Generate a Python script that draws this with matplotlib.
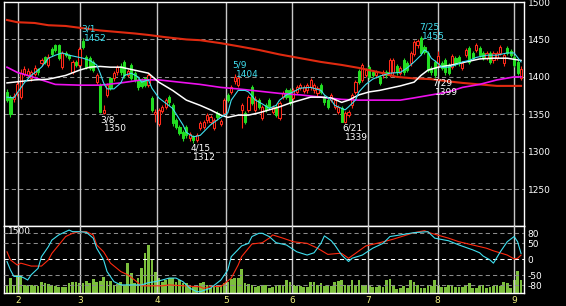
import matplotlib
matplotlib.use("Agg")
import matplotlib.pyplot as plt

W, H, DPI = 566, 306, 100

# ── daily candles, day index 0..149 ──────────────────────────────────────────
opens = [1380, 1373, 1370, 1378, 1373, 1404, 1402, 1398, 1404, 1410,
         1418, 1426, 1416, 1437, 1442, 1442, 1413, 1432, 1429, 1407,
         1420, 1416, 1448, 1426, 1425, 1420, 1393, 1389, 1352, 1376,
         1398, 1398, 1406, 1415, 1420, 1403, 1416, 1405, 1396, 1396,
         1398, 1389, 1372, 1350, 1337, 1355, 1360, 1373, 1362, 1342,
         1333, 1326, 1333, 1318, 1320, 1316, 1332, 1333, 1342, 1340,
         1332, 1352, 1337, 1352, 1376, 1380, 1394, 1389, 1356, 1352,
         1356, 1386, 1356, 1369, 1345, 1362, 1369, 1353, 1360, 1345,
         1373, 1382, 1382, 1372, 1380, 1385, 1381, 1382, 1386, 1382,
         1378, 1389, 1373, 1369, 1369, 1360, 1353, 1358, 1340, 1349,
         1362, 1380, 1408, 1396, 1403, 1413, 1406, 1402, 1400, 1402,
         1406, 1403, 1406, 1414, 1405, 1422, 1418, 1418, 1431, 1442,
         1452, 1440, 1432, 1412, 1420, 1418, 1418, 1422, 1416, 1413,
         1425, 1426, 1412, 1429, 1438, 1432, 1436, 1438, 1432, 1425,
         1432, 1422, 1425, 1432, 1418, 1438, 1434, 1426, 1420, 1399]
closes = [1369, 1351, 1374, 1390, 1405, 1410, 1408, 1406, 1412, 1406,
          1422, 1420, 1427, 1431, 1436, 1425, 1432, 1429, 1425, 1420,
          1416, 1437, 1440, 1413, 1412, 1409, 1402, 1353, 1356, 1389,
          1385, 1405, 1413, 1406, 1402, 1408, 1399, 1396, 1386, 1388,
          1389, 1402, 1356, 1353, 1356, 1360, 1369, 1366, 1338, 1333,
          1325, 1318, 1322, 1324, 1316, 1322, 1338, 1340, 1349, 1346,
          1342, 1346, 1341, 1369, 1369, 1386, 1400, 1399, 1362, 1340,
          1373, 1365, 1371, 1360, 1360, 1356, 1360, 1360, 1349, 1365,
          1378, 1373, 1365, 1382, 1386, 1389, 1386, 1389, 1396, 1389,
          1385, 1380, 1366, 1360, 1376, 1369, 1360, 1340, 1352, 1353,
          1376, 1393, 1393, 1416, 1409, 1400, 1403, 1406, 1392, 1406,
          1402, 1422, 1422, 1406, 1412, 1406, 1409, 1432, 1446, 1448,
          1432, 1433, 1409, 1406, 1403, 1428, 1412, 1406, 1405, 1428,
          1418, 1418, 1418, 1436, 1420, 1425, 1442, 1429, 1426, 1432,
          1420, 1432, 1432, 1440, 1429, 1432, 1429, 1416, 1405, 1411]
highs = [1384, 1376, 1378, 1394, 1410, 1414, 1412, 1409, 1416, 1412,
         1425, 1428, 1430, 1440, 1444, 1444, 1435, 1434, 1431, 1423,
         1423, 1440, 1452, 1429, 1428, 1423, 1405, 1392, 1362, 1392,
         1400, 1408, 1416, 1418, 1423, 1411, 1418, 1408, 1399, 1398,
         1400, 1405, 1375, 1357, 1359, 1363, 1372, 1376, 1365, 1345,
         1336, 1329, 1336, 1327, 1323, 1325, 1341, 1343, 1352, 1349,
         1345, 1354, 1344, 1372, 1379, 1389, 1404, 1402, 1365, 1355,
         1376, 1389, 1374, 1372, 1363, 1365, 1372, 1363, 1363, 1368,
         1381, 1385, 1385, 1385, 1389, 1392, 1389, 1392, 1399, 1392,
         1388, 1392, 1376, 1372, 1379, 1372, 1363, 1361, 1355, 1356,
         1379, 1396, 1411, 1419, 1412, 1416, 1409, 1409, 1403, 1409,
         1409, 1425, 1425, 1417, 1415, 1425, 1421, 1435, 1449, 1451,
         1455, 1443, 1435, 1415, 1423, 1434, 1421, 1425, 1419, 1431,
         1428, 1429, 1421, 1439, 1441, 1435, 1445, 1441, 1435, 1435,
         1435, 1435, 1435, 1443, 1432, 1441, 1437, 1429, 1423, 1414]
lows = [1366, 1346, 1366, 1375, 1370, 1401, 1399, 1395, 1401, 1403,
        1415, 1417, 1413, 1428, 1433, 1422, 1410, 1426, 1422, 1404,
        1413, 1413, 1437, 1410, 1409, 1406, 1390, 1352, 1350, 1373,
        1382, 1395, 1403, 1403, 1399, 1400, 1396, 1393, 1383, 1385,
        1386, 1386, 1353, 1340, 1334, 1352, 1357, 1363, 1335, 1330,
        1322, 1315, 1319, 1315, 1312, 1313, 1329, 1330, 1339, 1337,
        1329, 1343, 1334, 1349, 1366, 1377, 1391, 1386, 1332, 1337,
        1353, 1362, 1353, 1357, 1342, 1353, 1357, 1350, 1346, 1342,
        1370, 1370, 1362, 1369, 1377, 1382, 1378, 1379, 1383, 1379,
        1375, 1377, 1363, 1357, 1366, 1357, 1350, 1340, 1339, 1346,
        1359, 1377, 1390, 1393, 1400, 1397, 1400, 1399, 1389, 1399,
        1399, 1400, 1403, 1403, 1402, 1403, 1406, 1415, 1428, 1439,
        1429, 1430, 1406, 1403, 1399, 1415, 1409, 1403, 1402, 1410,
        1415, 1415, 1409, 1426, 1417, 1422, 1433, 1426, 1423, 1422,
        1417, 1419, 1422, 1429, 1415, 1429, 1426, 1413, 1402, 1396]
# volume in thousand shares
volume = [200, 370, 200, 450, 450, 200, 180, 200, 175, 175,
          280, 250, 230, 200, 175, 160, 160, 160, 250, 280,
          280, 250, 250, 310, 250, 340, 280, 310, 410, 310,
          310, 200, 225, 280, 200, 740, 490, 250, 370, 620,
          990, 1200, 840, 520, 370, 280, 330, 370, 370, 280,
          330, 250, 250, 200, 160, 150, 242, 283, 200, 117,
          158, 200, 200, 242, 283, 342, 367, 367, 592, 258,
          217, 200, 158, 175, 200, 200, 117, 158, 175, 200,
          200, 325, 283, 200, 175, 175, 158, 158, 267, 275,
          200, 258, 175, 175, 175, 283, 308, 325, 200, 200,
          325, 200, 325, 200, 200, 200, 158, 158, 175, 158,
          325, 342, 175, 92, 117, 175, 117, 325, 283, 200,
          117, 133, 200, 175, 325, 200, 158, 158, 200, 200,
          158, 142, 158, 200, 242, 117, 117, 175, 200, 117,
          142, 175, 200, 175, 283, 242, 117, 333, 558, 333]

# ── moving averages (day, price) ─────────────────────────────────────────────
ma5_day = [0, 2, 5, 7, 9, 10, 12, 14, 16, 18, 21, 22, 24, 26, 27, 28, 29, 31, 33, 34,
           36, 38, 39, 41, 42, 44, 46, 48, 51, 52, 54, 56, 59, 62, 64, 65, 67, 69, 70, 72,
           74, 76, 78, 79, 81, 83, 85, 88, 91, 92, 94, 95, 97, 98, 99, 101, 102, 104, 106, 108,
           111, 114, 116, 118, 120, 121, 122, 123, 125, 126, 128, 130, 132, 134, 136, 139, 142, 145, 147, 148,
           149]
ma5_val = [1373, 1372, 1392, 1402, 1409, 1413, 1425, 1429, 1432, 1429, 1426, 1425, 1422, 1416, 1405, 1392, 1384, 1384, 1392, 1402,
           1405, 1400, 1393, 1396, 1385, 1372, 1365, 1358, 1336, 1326, 1320, 1322, 1336, 1346, 1352, 1369, 1382, 1382, 1380, 1369,
           1364, 1358, 1362, 1369, 1376, 1380, 1385, 1386, 1382, 1376, 1369, 1362, 1358, 1356, 1360, 1369, 1380, 1390, 1397, 1401,
           1405, 1406, 1412, 1420, 1429, 1436, 1433, 1425, 1418, 1413, 1413, 1416, 1420, 1422, 1426, 1429, 1429, 1432, 1432, 1426,
           1420]
ma25_day = [0, 8, 12, 17, 21, 24, 27, 30, 33, 37, 41, 44, 48, 52, 56, 59, 62, 64, 67, 70,
            73, 76, 79, 82, 85, 88, 91, 94, 97, 99, 102, 105, 108, 111, 114, 118, 120, 122, 125, 129,
            133, 137, 141, 145, 149]
ma25_val = [1392, 1396, 1397, 1402, 1409, 1413, 1414, 1413, 1413, 1409, 1405, 1393, 1382, 1369, 1362, 1356, 1349, 1346, 1349, 1349,
            1352, 1356, 1360, 1365, 1369, 1373, 1373, 1372, 1366, 1369, 1376, 1380, 1382, 1385, 1388, 1393, 1402, 1409, 1413, 1416,
            1420, 1424, 1425, 1425, 1422]
ma75_day = [0, 3, 6, 10, 14, 21, 27, 33, 39, 44, 50, 56, 62, 67, 73, 79, 85, 91, 97, 102,
            114, 118, 123, 128, 132, 137, 142, 147, 149]
ma75_val = [1413, 1406, 1402, 1396, 1390, 1389, 1389, 1392, 1396, 1396, 1393, 1390, 1386, 1384, 1381, 1378, 1376, 1373, 1370, 1369,
            1369, 1372, 1376, 1380, 1386, 1390, 1396, 1400, 1400]
ma200_day = [0, 3, 8, 12, 17, 22, 27, 32, 37, 41, 46, 52, 56, 62, 67, 73, 79, 85, 91, 97,
             102, 108, 113, 118, 123, 128, 132, 137, 142, 147, 149]
ma200_val = [1476, 1473, 1472, 1469, 1468, 1465, 1462, 1460, 1458, 1456, 1453, 1450, 1449, 1445, 1441, 1436, 1430, 1425, 1420, 1416,
             1412, 1406, 1400, 1398, 1397, 1394, 1392, 1390, 1388, 1388, 1388]

# ── oscillators in lower panel (day, value) ─────────────────────────────────
osc_c_day = [0, 1, 2, 4, 5, 6, 7, 9, 10, 12, 13, 15, 18, 19, 21, 23, 25, 26, 28, 29,
             31, 33, 39, 41, 43, 45, 47, 49, 51, 53, 55, 56, 59, 62, 64, 65, 68, 70, 71, 73,
             74, 76, 78, 81, 84, 87, 89, 91, 92, 94, 95, 97, 99, 100, 103, 106, 109, 111, 114, 118,
             122, 124, 128, 131, 135, 137, 138, 140, 141, 143, 145, 147, 148, 149]
osc_c_val = [-7, -33, -53, -53, -58, -64, -48, -28, 8, 39, 59, 75, 90, 85, 85, 83, 65, 34, -2, -38,
             -69, -79, -79, -72, -69, -64, -58, -58, -69, -89, -100, -100, -89, -64, -33, 8, 41, 49, 70, 80,
             80, 70, 51, 44, 23, 13, 20, 49, 72, 57, 44, 13, -7, 3, 13, 34, 49, 70, 75, 82,
             85, 65, 57, 44, 29, 20, 10, -2, -12, 23, 54, 70, 54, 18]
osc_r_day = [0, 1, 3, 4, 7, 10, 12, 13, 15, 17, 19, 21, 23, 25, 26, 28, 30, 33, 35, 37,
             39, 45, 47, 56, 57, 59, 62, 65, 67, 68, 71, 74, 76, 77, 80, 83, 87, 90, 93, 96,
             97, 99, 101, 104, 108, 112, 118, 121, 123, 128, 131, 135, 139, 141, 145, 147, 148, 149]
osc_r_val = [23, -2, -18, -12, -21, -21, -2, 18, 44, 70, 80, 85, 85, 75, 44, 23, -12, -38, -48, -64,
             -82, -82, -79, -85, -90, -84, -84, -58, -18, 8, 47, 51, 65, 75, 65, 54, 49, 34, 15, 18,
             18, 3, 18, 41, 51, 62, 82, 88, 80, 65, 54, 44, 34, 26, 13, 1, 3, 13]

month_pos = [3.2, 21.3, 43.6, 63.5, 82.7, 104.7, 124.8, 147.0]
month_lbl = ["2", "3", "4", "5", "6", "7", "8", "9"]

# marked highs / lows
mark_day = [22, 28, 54, 66, 98, 120, 124]
mark_price = [1452, 1350, 1312, 1404, 1339, 1455, 1399]
mark_date = ["3/1", "3/8", "4/15", "5/9", "6/21", "7/25", "7/29"]
mark_high = [True, False, False, True, False, True, False]

# ── styling ──────────────────────────────────────────────────────────────────
BG = "black"
UP = "#ff2a1a"
DOWN = "#22dd22"
CYAN = "#40e0f0"
GRID = "#8c8c8c"
VLINE = "#c8c8c8"
FS = 6.5
plt.rcParams["font.family"] = "DejaVu Sans"

fig = plt.figure(figsize=(W / DPI, H / DPI), dpi=DPI, facecolor=BG)
ax = fig.add_axes([4 / W, (H - 226) / H, 520 / W, 224 / H], facecolor=BG)
axl = fig.add_axes([4 / W, (H - 293) / H, 520 / W, 67 / H], facecolor=BG)
axo = axl.twinx()
axo.patch.set_visible(False)

XL = (-0.87, 149.86)

# main panel grid
for v in [1250, 1300, 1350, 1400, 1450]:
    ax.axhline(v, color=GRID, lw=0.75, ls=(0, (4, 3)), zorder=1)
for m in month_pos:
    ax.axvline(m, color=VLINE, lw=1.0, zorder=1)
    axl.axvline(m, color=VLINE, lw=1.0, zorder=3)

# candles
days = list(range(len(opens)))
for i in days:
    o, c = opens[i], closes[i]
    up = c >= o
    col = UP if up else DOWN
    ax.vlines(i, lows[i], highs[i], color=col, lw=0.8, zorder=3)
    bot = min(o, c)
    hgt = max(abs(c - o), 0.8)
    ax.bar(i, hgt, bottom=bot, width=0.62,
           facecolor=BG if up else col, edgecolor=col, linewidth=0.75, zorder=4)

# moving averages
ax.plot(ma200_day, ma200_val, color="#e02a10", lw=1.5, zorder=5)
ax.plot(ma75_day, ma75_val, color="#ee10ee", lw=1.2, zorder=5)
ax.plot(ma25_day, ma25_val, color="white", lw=1.1, zorder=5)
ax.plot(ma5_day, ma5_val, color=CYAN, lw=0.8, zorder=6)

# high / low marks
for d, p, t, hi in zip(mark_day, mark_price, mark_date, mark_high):
    col = CYAN if hi else "white"
    if hi:
        off_d, off_v = (-2, 6), (1, -3)
    else:
        off_d, off_v = (-3, -8), (0, -17)
    ax.annotate(t, xy=(d, p), xytext=off_d, textcoords="offset pixels",
                color=col, fontsize=FS, ha="left", va="baseline", zorder=7)
    ax.annotate(str(p), xy=(d, p), xytext=off_v, textcoords="offset pixels",
                color=col, fontsize=FS, ha="left", va="baseline", zorder=7)

ax.set_xlim(*XL)
ax.set_ylim(1201, 1500)
ax.yaxis.tick_right()
ax.set_yticks([1250, 1300, 1350, 1400, 1450, 1500])
ax.tick_params(axis="y", length=0, pad=2.5, labelcolor="white", labelsize=FS)
ax.set_xticks([])
for s in ax.spines.values():
    s.set_color("white")
    s.set_linewidth(1.0)

# volume
axl.bar(days, volume, width=0.8, color="#7cbf3c", zorder=2)
axl.set_xlim(*XL)
axl.set_ylim(0, 1675)
axl.set_yticks([])
axl.set_xticks(month_pos)
axl.set_xticklabels(month_lbl)
axl.tick_params(axis="x", length=0, pad=2.5, labelcolor="#f0f080", labelsize=FS)
axl.text(0.008, 0.985, "1500", transform=axl.transAxes, color="white",
         fontsize=FS, ha="left", va="top", zorder=6)
for s in axl.spines.values():
    s.set_color("white")
    s.set_linewidth(1.0)

# oscillators
for v in [80, 50, -50, -80]:
    axo.axhline(v, color=GRID, lw=0.75, ls=(0, (4, 3)), zorder=1)
axo.axhline(0, color="white", lw=0.75, ls=(0, (4, 3)), zorder=1)
axo.plot(osc_r_day, osc_r_val, color="#ff2a10", lw=0.8, zorder=4)
axo.plot(osc_c_day, osc_c_val, color=CYAN, lw=0.8, zorder=5)
axo.set_xlim(*XL)
axo.set_ylim(-104, 102.5)
axo.set_yticks([80, 50, 0, -50, -80])
axo.set_yticklabels(["80", "50", "0", "-50", "-80"])
axo.tick_params(axis="y", length=0, pad=2.5, labelcolor="white", labelsize=FS)
for s in axo.spines.values():
    s.set_visible(False)

fig.savefig("out.png", dpi=DPI, facecolor=BG)
